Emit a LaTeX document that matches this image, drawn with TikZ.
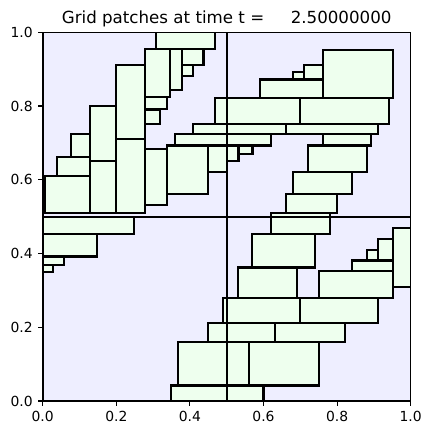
\documentclass[tikz,border=0pt]{standalone}
\usepackage{fontspec}
\setmainfont{DejaVu Sans}
\usepackage{tikz}
\usetikzlibrary{positioning}
\definecolor{basefill}{RGB}{238,238,255}
\definecolor{finefill}{RGB}{238,255,238}

\begin{document}
\begin{tikzpicture}[
    x=0.72pt, y=0.72pt,
    coarse/.style={draw=black, line width=1.5pt},
    fine/.style={fill=finefill, draw=black, line width=1.5pt},
    spine/.style={draw=black, line width=0.8pt},
    tickmark/.style={line width=0.8pt},
    ticklbl/.style={font=\fontsize{10}{12}\selectfont, inner sep=0pt},
    ttl/.style={font=\fontsize{12}{14}\selectfont, inner sep=0pt}
  ]
  \useasboundingbox (0,0) rectangle (432,435);
  \begin{scope}[shift={(42.7,34)}, x=264.96pt, y=265.46pt]
    \begin{scope}
      \clip (0,0) rectangle (1,1);
      % Level 0
      \fill[basefill] (0,0) rectangle (1,1);

      % Upper left
      \draw[fine] (0.307,0.954) rectangle (0.468,1.02);
      \draw[fine] (0.278,0.825) rectangle (0.346,0.954);
      \draw[fine] (0.346,0.843) rectangle (0.378,0.954);
      \draw[fine] (0.378,0.911) rectangle (0.437,0.954);
      \draw[fine] (0.378,0.882) rectangle (0.409,0.911);
      \draw[fine] (0.199,0.711) rectangle (0.278,0.911);
      \draw[fine] (0.199,0.509) rectangle (0.278,0.711);
      \draw[fine] (0.278,0.793) rectangle (0.337,0.825);
      \draw[fine] (0.278,0.751) rectangle (0.319,0.790);
      \draw[fine] (0.129,0.651) rectangle (0.199,0.801);
      \draw[fine] (0.129,0.509) rectangle (0.199,0.651);
      \draw[fine] (0.076,0.661) rectangle (0.129,0.723);
      \draw[fine] (0.038,0.610) rectangle (0.129,0.661);
      \draw[fine] (0.005,0.509) rectangle (0.129,0.610);
      \draw[fine] (0.278,0.532) rectangle (0.337,0.683);
      \draw[fine] (0.337,0.561) rectangle (0.448,0.693);
      \draw[fine] (0.448,0.622) rectangle (0.500,0.693);
      \draw[fine] (0.409,0.723) rectangle (0.661,0.751);
      \draw[fine] (0.360,0.693) rectangle (0.620,0.723);
      \draw[fine] (0.468,0.751) rectangle (0.699,0.823);

      % Upper right
      \draw[fine] (0.761,0.823) rectangle (0.953,0.952);
      \draw[fine] (0.710,0.872) rectangle (0.761,0.911);
      \draw[fine] (0.679,0.872) rectangle (0.710,0.893);
      \draw[fine] (0.591,0.823) rectangle (0.761,0.872);
      \draw[fine] (0.699,0.751) rectangle (0.941,0.823);
      \draw[fine] (0.661,0.723) rectangle (0.911,0.751);
      \draw[fine] (0.761,0.693) rectangle (0.892,0.723);
      \draw[fine] (0.500,0.651) rectangle (0.532,0.693);
      \draw[fine] (0.532,0.670) rectangle (0.570,0.693);
      \draw[fine] (0.721,0.622) rectangle (0.881,0.693);
      \draw[fine] (0.679,0.561) rectangle (0.841,0.622);
      \draw[fine] (0.661,0.509) rectangle (0.800,0.561);
      \draw[fine] (0.620,0.452) rectangle (0.781,0.509);

      % Lower left
      \draw[fine] (-0.02,0.452) rectangle (0.248,0.500);
      \draw[fine] (-0.02,0.392) rectangle (0.147,0.452);
      \draw[fine] (-0.02,0.369) rectangle (0.058,0.392);
      \draw[fine] (-0.02,0.349) rectangle (0.028,0.369);

      % Lower right
      \draw[fine] (0.569,0.362) rectangle (0.740,0.452);
      \draw[fine] (0.531,0.280) rectangle (0.692,0.362);
      \draw[fine] (0.750,0.280) rectangle (0.952,0.352);
      \draw[fine] (0.841,0.352) rectangle (0.952,0.381);
      \draw[fine] (0.880,0.381) rectangle (0.911,0.410);
      \draw[fine] (0.911,0.381) rectangle (0.952,0.439);
      \draw[fine] (0.952,0.310) rectangle (1.02,0.470);
      \draw[fine] (0.489,0.211) rectangle (0.699,0.280);
      \draw[fine] (0.699,0.211) rectangle (0.911,0.280);
      \draw[fine] (0.448,0.161) rectangle (0.631,0.211);
      \draw[fine] (0.631,0.161) rectangle (0.822,0.211);
      \draw[fine] (0.367,0.042) rectangle (0.561,0.161);
      \draw[fine] (0.561,0.042) rectangle (0.751,0.161);
      \draw[fine] (0.349,-0.02) rectangle (0.600,0.042);

      % Level 0 outlines
      \draw[coarse] (0,0) rectangle (0.5,0.5);
      \draw[coarse] (0.5,0) rectangle (1,0.5);
      \draw[coarse] (0,0.5) rectangle (0.5,1);
      \draw[coarse] (0.5,0.5) rectangle (1,1);
    \end{scope}

    % Axes
    \draw[spine] (0,0) rectangle (1,1);
    \foreach \v/\i in {0.0/0,0.2/1,0.4/2,0.6/3,0.8/4,1.0/5} {
      \draw[tickmark] (\v,0) -- ++(0,-3.5pt);
      \node[ticklbl, anchor=north] (xl\i) at ([yshift=-7pt]\v,0) {\v};
      \draw[tickmark] (0,\v) -- ++(-3.5pt,0);
      \node[ticklbl, anchor=east] (yl\i) at ([xshift=-7pt]0,\v) {\v};
    }
    \node[ttl, anchor=base] (title) at ([yshift=6pt]0.5,1)
      {Grid patches at time t =\hspace{19.1pt}2.50000000};
  \end{scope}
\end{tikzpicture}
\end{document}
